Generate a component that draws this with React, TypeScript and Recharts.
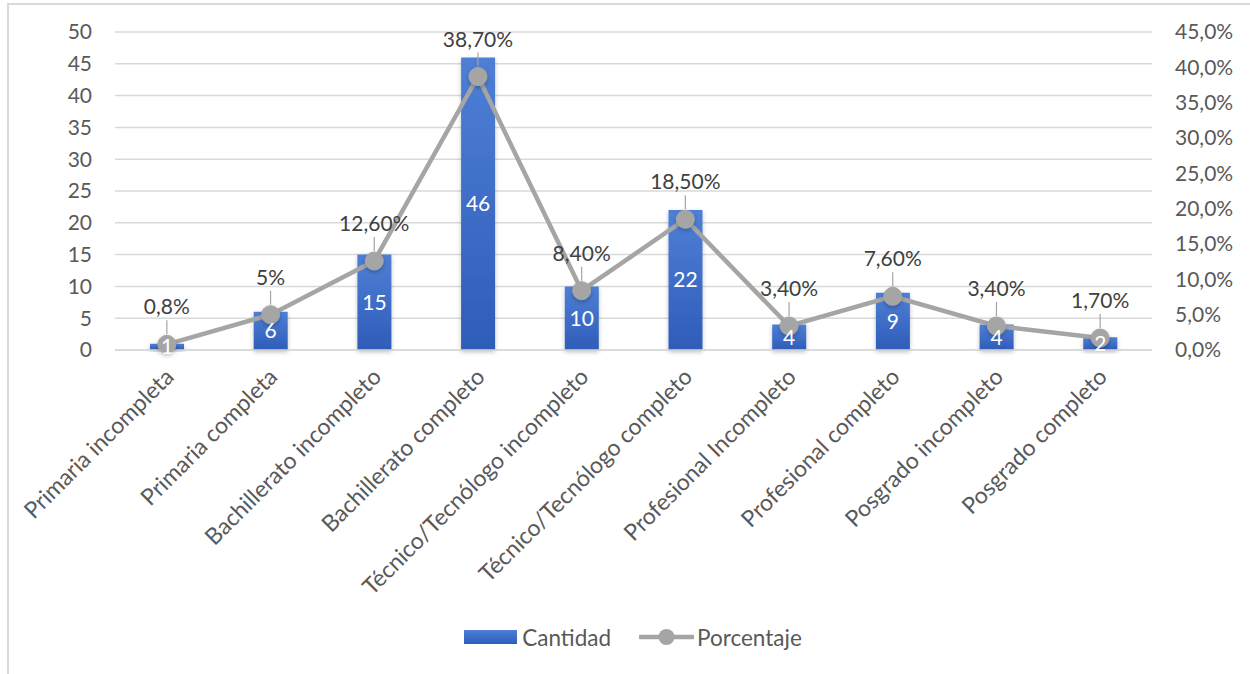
import React from 'react';
import {
  ComposedChart,
  Bar,
  Line,
  XAxis,
  YAxis,
  CartesianGrid,
  Legend,
  LabelList,
} from 'recharts';

// Nivel educativo
const categories = [
  'Primaria incompleta',
  'Primaria completa',
  'Bachillerato incompleto',
  'Bachillerato completo',
  'Técnico/Tecnólogo incompleto',
  'Técnico/Tecnólogo completo',
  'Profesional Incompleto',
  'Profesional completo',
  'Posgrado incompleto',
  'Posgrado completo',
];

const cantidad = [1, 6, 15, 46, 10, 22, 4, 9, 4, 2];

const porcentaje = [0.8, 5, 12.6, 38.7, 8.4, 18.5, 3.4, 7.6, 3.4, 1.7];

const porcentajeLabels = [
  '0,8%',
  '5%',
  '12,60%',
  '38,70%',
  '8,40%',
  '18,50%',
  '3,40%',
  '7,60%',
  '3,40%',
  '1,70%',
];

const leftTicks = [0, 5, 10, 15, 20, 25, 30, 35, 40, 45, 50];
const rightTicks = [0, 5, 10, 15, 20, 25, 30, 35, 40, 45];

const data = categories.map((categoria, i) => ({
  categoria,
  cantidad: cantidad[i],
  porcentaje: porcentaje[i],
  etiqueta: porcentajeLabels[i],
}));

const FONT = 'Lato, "Open Sans", sans-serif';
const AXIS_TEXT = '#595959';
const LABEL_TEXT = '#404040';
const GRID = '#d9d9d9';
const LINE_GRAY = '#a5a5a5';

const CategoryTick = (props: any) => {
  const { x, y, payload } = props;
  const ax = x + 2;
  const ay = y + 22;
  return (
    <text
      x={ax}
      y={ay}
      transform={`rotate(-45, ${ax}, ${ay})`}
      textAnchor="end"
      dominantBaseline="central"
      fill={AXIS_TEXT}
      fontSize={23}
      fontFamily={FONT}
    >
      {payload.value}
    </text>
  );
};

const PercentLabel = (props: any) => {
  const { x, y, value } = props;
  if (x == null || y == null) return null;
  return (
    <g>
      <line x1={x} y1={y - 10} x2={x} y2={y - 24} stroke={LINE_GRAY} strokeWidth={1.2} />
      <text
        x={x}
        y={y - 30}
        textAnchor="middle"
        fill={LABEL_TEXT}
        fontSize={21}
        fontFamily={FONT}
      >
        {value}
      </text>
    </g>
  );
};

const LegendContent = () => (
  <div
    style={{
      display: 'flex',
      justifyContent: 'center',
      alignItems: 'center',
      height: 30,
      paddingLeft: 16,
      fontFamily: FONT,
      fontSize: 22.5,
      color: AXIS_TEXT,
    }}
  >
    <svg width={53} height={14} style={{ marginRight: 5 }}>
      <defs>
        <linearGradient id="legendBarGrad" x1="0" y1="0" x2="0" y2="1">
          <stop offset="0%" stopColor="#4f7fd5" />
          <stop offset="100%" stopColor="#2e5cb9" />
        </linearGradient>
      </defs>
      <rect x={0} y={0} width={53} height={14} fill="url(#legendBarGrad)" />
    </svg>
    <span style={{ marginRight: 28 }}>Cantidad</span>
    <svg width={55} height={20} style={{ marginRight: 3 }}>
      <line x1={1} y1={10} x2={54} y2={10} stroke={LINE_GRAY} strokeWidth={4.5} strokeLinecap="round" />
      <circle cx={27.5} cy={10} r={8} fill={LINE_GRAY} />
    </svg>
    <span>Porcentaje</span>
  </div>
);

export default function App() {
  return (
    <div
      style={{
        position: 'absolute',
        left: 0,
        top: 0,
        width: 1250,
        height: 674,
        overflow: 'hidden',
        background: '#ffffff',
      }}
    >
      <div
        style={{
          position: 'absolute',
          left: 7,
          top: 3,
          width: 1260,
          height: 690,
          border: `2px solid ${GRID}`,
          boxSizing: 'border-box',
        }}
      />
      <div style={{ position: 'absolute', left: 0, top: 0 }}>
        <ComposedChart
          width={1250}
          height={674}
          data={data}
          margin={{ top: 32, right: 0, left: 0, bottom: 22 }}
        >
          <defs>
            <linearGradient id="barGrad" x1="0" y1="0" x2="0" y2="1">
              <stop offset="0%" stopColor="#4f7fd5" />
              <stop offset="100%" stopColor="#2e5cb9" />
            </linearGradient>
            <filter id="softShadow" x="-30%" y="-30%" width="160%" height="160%">
              <feDropShadow dx="0" dy="2" stdDeviation="2" floodColor="#000000" floodOpacity="0.25" />
            </filter>
          </defs>
          <CartesianGrid
            yAxisId="left"
            vertical={false}
            stroke={GRID}
            strokeWidth={1.5}
          />
          <XAxis
            dataKey="categoria"
            interval={0}
            tickLine={false}
            tickSize={0}
            tickMargin={0}
            axisLine={{ stroke: GRID, strokeWidth: 1.5 }}
            height={272}
            tick={<CategoryTick />}
          />
          <YAxis
            yAxisId="left"
            orientation="left"
            width={115}
            domain={[0, 50]}
            ticks={leftTicks}
            axisLine={false}
            tickLine={false}
            tickSize={0}
            tickMargin={23}
            tick={{ fill: AXIS_TEXT, fontSize: 21, fontFamily: FONT }}
          />
          <YAxis
            yAxisId="right"
            orientation="right"
            width={98}
            domain={[0, 45]}
            ticks={rightTicks}
            axisLine={false}
            tickLine={false}
            tickSize={0}
            tickMargin={23}
            tickFormatter={(v: number) => `${v.toFixed(1).replace('.', ',')}%`}
            tick={{ fill: AXIS_TEXT, fontSize: 21, fontFamily: FONT, textAnchor: 'start' }}
          />
          <Legend verticalAlign="bottom" align="center" content={<LegendContent />} />
          <Bar
            yAxisId="left"
            dataKey="cantidad"
            name="Cantidad"
            barSize={34}
            fill="url(#barGrad)"
            filter="url(#softShadow)"
            isAnimationActive={false}
          >
            <LabelList
              dataKey="cantidad"
              position="center"
              fill="#ffffff"
              fontSize={21}
              fontFamily={FONT}
            />
          </Bar>
          <Line
            yAxisId="right"
            dataKey="porcentaje"
            name="Porcentaje"
            type="linear"
            stroke={LINE_GRAY}
            strokeWidth={4.5}
            dot={{ r: 9, fill: LINE_GRAY, stroke: LINE_GRAY, strokeWidth: 1, filter: 'url(#softShadow)' }}
            activeDot={false}
            isAnimationActive={false}
          >
            <LabelList dataKey="etiqueta" content={<PercentLabel />} />
          </Line>
        </ComposedChart>
      </div>
    </div>
  );
}
